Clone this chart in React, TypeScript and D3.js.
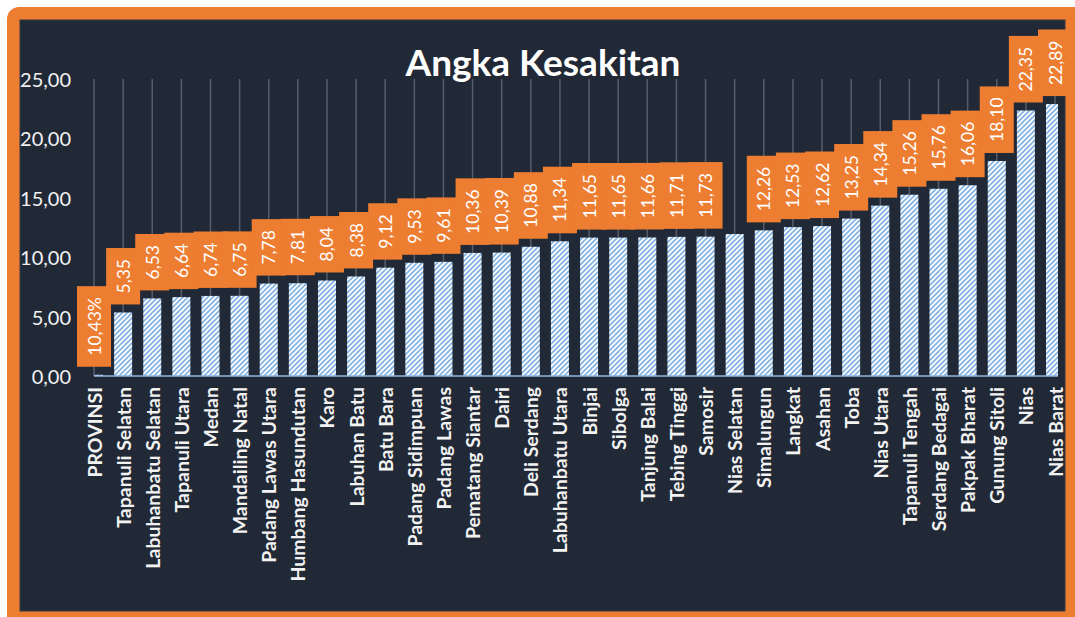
import React from "react";
import * as d3 from "d3";

const categories = [
  "PROVINSI", "Tapanuli Selatan", "Labuhanbatu Selatan", "Tapanuli Utara", "Medan",
  "Mandailing Natal", "Padang Lawas Utara", "Humbang Hasundutan", "Karo", "Labuhan Batu",
  "Batu Bara", "Padang Sidimpuan", "Padang Lawas", "Pematang Siantar", "Dairi",
  "Deli Serdang", "Labuhanbatu Utara", "Binjai", "Sibolga", "Tanjung Balai",
  "Tebing Tinggi", "Samosir", "Nias Selatan", "Simalungun", "Langkat", "Asahan", "Toba",
  "Nias Utara", "Tapanuli Tengah", "Serdang Bedagai", "Pakpak Bharat", "Gunung Sitoli",
  "Nias", "Nias Barat",
];
const values = [
  0.1043, 5.35, 6.53, 6.64, 6.74, 6.75, 7.78, 7.81, 8.04, 8.38, 9.12, 9.53, 9.61, 10.36,
  10.39, 10.88, 11.34, 11.65, 11.65, 11.66, 11.71, 11.73, 11.95, 12.26, 12.53, 12.62,
  13.25, 14.34, 15.26, 15.76, 16.06, 18.1, 22.35, 22.89,
];
// Nias Selatan has no data label in the original
const labels = [
  "10,43%", "5,35", "6,53", "6,64", "6,74", "6,75", "7,78", "7,81", "8,04", "8,38", "9,12",
  "9,53", "9,61", "10,36", "10,39", "10,88", "11,34", "11,65", "11,65", "11,66", "11,71",
  "11,73", "", "12,26", "12,53", "12,62", "13,25", "14,34", "15,26", "15,76", "16,06",
  "18,10", "22,35", "22,89",
];
const yTicks = [0, 5, 10, 15, 20, 25];

const ORANGE = "#ed7d31";
const BG = "#222936";
const labelFont = "17.5px Lato";

let ctx: CanvasRenderingContext2D | null = null;
function textWidth(s: string, font: string) {
  if (!ctx) ctx = document.createElement("canvas").getContext("2d");
  if (!ctx) return s.length * 9;
  ctx.font = font;
  return ctx.measureText(s).width;
}

function App() {
  const x = d3.scalePoint<string>().domain(categories).range([94, 1055]);
  const y = d3.scaleLinear().domain([0, 25]).range([376, 79]);
  const fmt = (v: number) => d3.format(".2f")(v).replace(".", ",");
  const barW = 18;

  return (
    <svg
      width={1075}
      height={617}
      style={{ position: "absolute", left: 0, top: 0, fontFamily: "Lato, sans-serif" }}
    >
      <defs>
        <pattern id="hatch" patternUnits="userSpaceOnUse" width="5" height="5">
          <rect width="5" height="5" fill="#ffffff" />
          <path d="M0,5 L5,0 M-1,1 L1,-1 M4,6 L6,4" stroke="#84b3e4" strokeWidth="1.8" />
        </pattern>
        <clipPath id="plot">
          <rect x={94} y={20} width={964} height={360} />
        </clipPath>
      </defs>
      <rect width={1075} height={617} fill="#fff" />
      <rect x={7} y={7} width={1080} height={630} rx={12} fill={ORANGE} />
      <rect x={20} y={20} width={1045} height={591} fill={BG} stroke="#353b47" strokeWidth={1} />

      <text
        x={543}
        y={61}
        textAnchor="middle"
        dominantBaseline="central"
        fill="#fff"
        fontWeight="bold"
        fontSize={37}
      >
        Angka Kesakitan
      </text>

      {yTicks.map((t) => (
        <text
          key={t}
          x={71}
          y={y(t)}
          textAnchor="end"
          dominantBaseline="central"
          fill="#f2f2f2"
          fontSize={20}
        >
          {fmt(t)}
        </text>
      ))}

      {categories.map((c) => (
        <line key={c} x1={x(c)} x2={x(c)} y1={y(25)} y2={y(0)} stroke="#565d6a" strokeWidth={1.5} />
      ))}

      <g clipPath="url(#plot)">
        {categories.map((c, i) => (
          <rect
            key={c}
            x={(x(c) as number) - barW / 2}
            y={y(values[i])}
            width={barW}
            height={y(0) - y(values[i])}
            fill="url(#hatch)"
          />
        ))}
      </g>
      <line x1={94} x2={1058} y1={y(0)} y2={y(0)} stroke="#8fb4e3" strokeWidth={1.5} />

      {categories.map((c, i) => {
        if (!labels[i]) return null;
        const cx = x(c) as number;
        const h = textWidth(labels[i], labelFont) + 22;
        const bottom = y(values[i]) - 8;
        return (
          <g key={c}>
            <rect x={cx - 17} y={bottom - h} width={34} height={h} fill={ORANGE} />
            <text
              transform={`translate(${cx},${bottom - h / 2}) rotate(-90)`}
              textAnchor="middle"
              dominantBaseline="central"
              fill="#fff"
              fontSize={17.5}
            >
              {labels[i]}
            </text>
          </g>
        );
      })}

      {categories.map((c) => (
        <text
          key={c}
          transform={`translate(${x(c)},387) rotate(-90)`}
          textAnchor="end"
          dominantBaseline="central"
          fill="#f2f2f2"
          fontWeight="bold"
          fontSize={19.5}
        >
          {c}
        </text>
      ))}
    </svg>
  );
}

export default App;
